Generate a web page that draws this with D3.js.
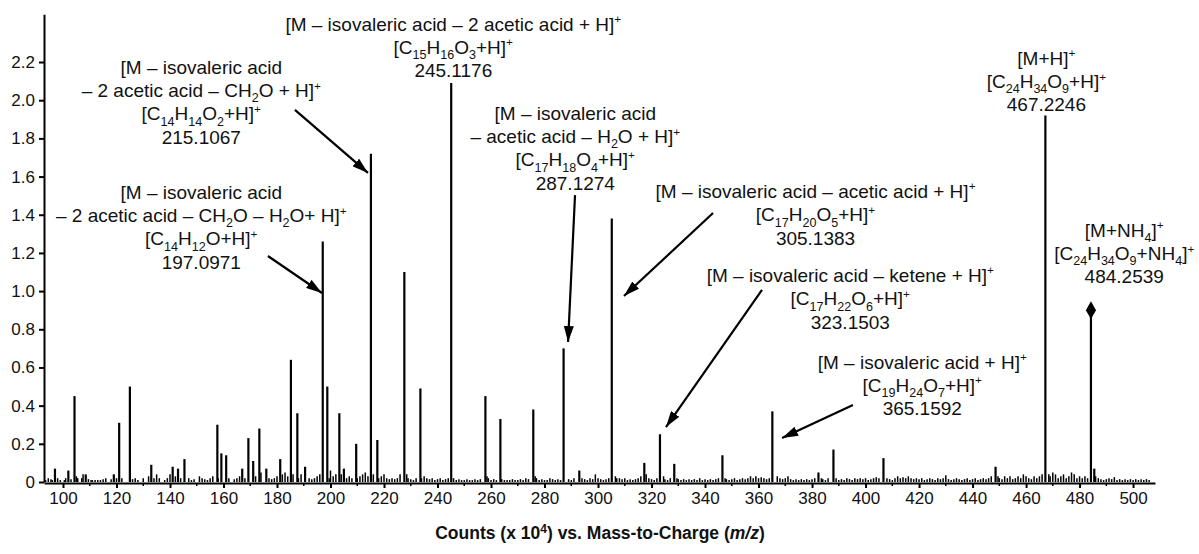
<!DOCTYPE html>
<html><head><meta charset="utf-8">
<script src="https://cdn.jsdelivr.net/npm/d3@7"></script>
<style>
body{margin:0;background:#fff}
svg{display:block}
text{font-family:"Liberation Sans",Arial,Helvetica,sans-serif;fill:#111}
</style>
</head><body>
<svg id="c" width="1199" height="554"></svg>
<script>
// ---- data (m/z, counts x10^4) ----
const majorMz  = [97,102,104.3,108.5,119,121,125,133,141,143,145.4,157.7,159.2,161,167,169.3,171.1,173.4,176,181.2,185.2,187.6,190.5,197.0971,198.8,203.3,205,209.6,215.1067,217.5,227.6,233.6,245.1176,257.9,263.5,275.8,287.1274,293,305.1383,317.3,323.1503,328.5,346.5,365.1592,382.4,388,406.7,448.6,467.2246,485.5];
const majorInt = [0.07,0.06,0.45,0.04,0.04,0.31,0.50,0.09,0.08,0.07,0.12,0.30,0.15,0.14,0.07,0.23,0.11,0.28,0.07,0.12,0.64,0.36,0.08,1.26,0.50,0.36,0.07,0.20,1.72,0.22,1.10,0.49,2.09,0.45,0.33,0.38,0.70,0.06,1.38,0.10,0.25,0.095,0.14,0.37,0.05,0.17,0.125,0.08,1.92,0.07];
const noiseMz  = [93.5,94.5,95.5,96,98,99,100.5,101,103,105,105.5,107,107.5,109.5,110.5,111,112,113,114,115,116,118,120,122,126,127,128,130,132,134,135,136,138,139,140,142,144,147,148,149,151,152,153,154,155,156,158,162,164,165,166,168,172,174,177,178,179,180,182,183,184,186,188,189,192,193,194,195,196,199.5,200,201,202,204,206,207,208,210,211,212,213,214,216,218,219,220,221,222,223,224,225,226,228.5,229,230,231,232,234,235,236,237,238,239,240,241,242,243,244,246,247,248,249,250,251,252,253,254,255,256,258.5,259,260,261,262,264,265,266,267,268,269,270,271,272,273,274,276.5,277,278,279,280,281,282,283,284,285,286,289,290,291,294,295,296,297,298,299,300,301,302,303,304,306.5,307,308,309,310,311,312,313,314,315,316,318,319,320,321,322,324.5,325,326,327,329.5,330,331,332,333,334,335,336,337,338,339,340,341,342,343,344,345,347.5,348,349,350,351,352,353,354,355,356,357,358,359,360,361,362,363,364,367,368,369,370,371,372,373,374,375,376,377,378,379,380,381,383.5,384,385,386,389,390,391,392,393,394,395,396,397,398,399,400,401,402,403,404,405,408,409,410,411,412,413,414,415,416,417,418,419,420,421,422,423,424,425,426,427,428,429,430,431,432,433,434,435,436,437,438,439,440,441,442,443,444,445,446,447,449.5,450,451,452,453,454,455,456,457,458,459,460,461,462,463,464,465,466,468.5,469,470,471,472,473,474,475,476,477,478,479,480,481,482,483,486,487,488,489,490,491,492,493,494,495,496,497,498,499,500,501,502,503,504,505,506];
const noiseInt = [0.01,0.02,0.015,0.01,0.02,0.01,0.01,0.02,0.015,0.03,0.02,0.02,0.04,0.015,0.01,0.01,0.01,0.01,0.01,0.015,0.02,0.015,0.02,0.02,0.015,0.02,0.01,0.02,0.03,0.02,0.04,0.02,0.01,0.02,0.04,0.03,0.02,0.02,0.01,0.015,0.03,0.02,0.015,0.01,0.02,0.03,0.02,0.02,0.015,0.02,0.03,0.02,0.03,0.05,0.02,0.015,0.02,0.03,0.04,0.05,0.03,0.04,0.02,0.04,0.02,0.015,0.02,0.03,0.04,0.02,0.06,0.03,0.04,0.04,0.02,0.03,0.02,0.02,0.03,0.04,0.05,0.03,0.04,0.02,0.03,0.04,0.02,0.015,0.02,0.015,0.02,0.04,0.04,0.02,0.015,0.01,0.02,0.02,0.03,0.02,0.015,0.02,0.01,0.015,0.02,0.01,0.015,0.02,0.02,0.01,0.015,0.01,0.01,0.015,0.01,0.01,0.015,0.01,0.015,0.03,0.02,0.01,0.015,0.01,0.015,0.01,0.01,0.01,0.015,0.01,0.01,0.015,0.01,0.02,0.015,0.03,0.02,0.01,0.015,0.01,0.01,0.02,0.015,0.01,0.015,0.01,0.015,0.01,0.02,0.02,0.015,0.01,0.02,0.015,0.04,0.02,0.015,0.01,0.015,0.02,0.03,0.02,0.02,0.015,0.02,0.01,0.015,0.01,0.015,0.02,0.03,0.04,0.02,0.015,0.01,0.02,0.03,0.015,0.01,0.02,0.02,0.015,0.01,0.015,0.01,0.015,0.01,0.015,0.01,0.02,0.01,0.015,0.01,0.015,0.01,0.015,0.02,0.02,0.015,0.01,0.015,0.02,0.01,0.015,0.02,0.015,0.02,0.03,0.02,0.03,0.02,0.025,0.02,0.015,0.02,0.03,0.02,0.015,0.02,0.03,0.015,0.01,0.015,0.01,0.015,0.01,0.015,0.01,0.015,0.02,0.02,0.015,0.01,0.02,0.02,0.01,0.015,0.01,0.02,0.015,0.01,0.02,0.015,0.02,0.015,0.02,0.01,0.015,0.02,0.025,0.02,0.02,0.015,0.01,0.02,0.03,0.02,0.025,0.02,0.03,0.02,0.015,0.02,0.015,0.02,0.01,0.015,0.02,0.015,0.01,0.02,0.015,0.02,0.035,0.015,0.01,0.015,0.02,0.015,0.01,0.015,0.02,0.01,0.015,0.02,0.01,0.015,0.02,0.015,0.02,0.03,0.03,0.02,0.015,0.03,0.02,0.03,0.015,0.02,0.03,0.02,0.04,0.03,0.02,0.015,0.03,0.02,0.03,0.04,0.04,0.03,0.05,0.04,0.02,0.03,0.04,0.02,0.03,0.05,0.04,0.02,0.03,0.02,0.03,0.02,0.03,0.02,0.015,0.01,0.015,0.02,0.015,0.025,0.01,0.015,0.01,0.015,0.01,0.015,0.01,0.015,0.01,0.015,0.01,0.015,0.01];
const adductMz = [484.2539];
const adductInt = [0.90];

const yTicks = [0,0.2,0.4,0.6,0.8,1.0,1.2,1.4,1.6,1.8,2.0,2.2];
const xTicks = [100,120,140,160,180,200,220,240,260,280,300,320,340,360,380,400,420,440,460,480,500];
const xMinorTicks = [110,130,150,170,190,210,230,250,270,290,310,330,350,370,390,410,430,450,470,490];
const axisTitle = ["Counts (x 10", "4", ") vs. Mass-to-Charge (", "m/z", ")"];

// annotation labels: anchor (m/z, intensity) of first line centre
const labelMz  = [245.9,151.7,151.7,291.5,381.3,394.3,421.2,467.6,496.7];
const labelInt = [2.40,2.174,1.519,1.933,1.524,1.084,0.629,2.221,1.320];
const labelLines = [
  ["[M – isovaleric acid – 2 acetic acid + H]^{+}", "[C_{15}H_{16}O_{3}+H]^{+}", "245.1176"],
  ["[M – isovaleric acid", "– 2 acetic acid – CH_{2}O + H]^{+}", "[C_{14}H_{14}O_{2}+H]^{+}", "215.1067"],
  ["[M – isovaleric acid", "– 2 acetic acid – CH_{2}O – H_{2}O+ H]^{+}", "[C_{14}H_{12}O+H]^{+}", "197.0971"],
  ["[M – isovaleric acid", "– acetic acid – H_{2}O + H]^{+}", "[C_{17}H_{18}O_{4}+H]^{+}", "287.1274"],
  ["[M – isovaleric acid – acetic acid + H]^{+}", "[C_{17}H_{20}O_{5}+H]^{+}", "305.1383"],
  ["[M – isovaleric acid – ketene + H]^{+}", "[C_{17}H_{22}O_{6}+H]^{+}", "323.1503"],
  ["[M – isovaleric acid + H]^{+}", "[C_{19}H_{24}O_{7}+H]^{+}", "365.1592"],
  ["[M+H]^{+}", "[C_{24}H_{34}O_{9}+H]^{+}", "467.2246"],
  ["[M+NH_{4}]^{+}", "[C_{24}H_{34}O_{9}+NH_{4}]^{+}", "484.2539"]
];
// arrows: from (m/z, int) to (m/z, int)
const arrowFromMz  = [186.7,176.6,291.4,343.0,361.3,395.3];
const arrowFromInt = [1.949,1.184,1.503,1.409,1.006,0.403];
const arrowToMz    = [214.0,196.8,288.8,309.7,325.4,368.8];
const arrowToInt   = [1.619,0.990,0.733,0.974,0.288,0.230];

// ---- drawing ----
const svg = d3.select("#c");
const x = d3.scaleLinear().domain([92.9, 508.2]).range([44, 1155]);
const y = d3.scaleLinear().domain([0, 2.45]).range([482, 14.3]);

svg.append("defs").append("marker").attr("id","ah").attr("viewBox","0 0 16 10")
  .attr("refX",16).attr("refY",5).attr("markerWidth",16).attr("markerHeight",10)
  .attr("markerUnits","userSpaceOnUse").attr("orient","auto")
  .append("path").attr("d","M0,0 L16,5 L0,10 Z").attr("fill","#000");

const noise = d3.zip(noiseMz, noiseInt);
svg.append("g").selectAll("line").data(noise).join("line")
  .attr("x1",d=>x(d[0])).attr("x2",d=>x(d[0]))
  .attr("y1",y(0)).attr("y2",d=>y(d[1]))
  .attr("stroke","#000").attr("stroke-width",1.5);

const peaks = d3.zip(majorMz, majorInt);
svg.append("g").selectAll("line").data(peaks).join("line")
  .attr("x1",d=>x(d[0])).attr("x2",d=>x(d[0]))
  .attr("y1",y(0)).attr("y2",d=>y(d[1]))
  .attr("stroke","#000").attr("stroke-width",2.2);

const adduct = d3.zip(adductMz, adductInt);
svg.append("g").selectAll("line").data(adduct).join("line")
  .attr("x1",d=>x(d[0])).attr("x2",d=>x(d[0]))
  .attr("y1",y(0)).attr("y2",d=>y(d[1]))
  .attr("stroke","#000").attr("stroke-width",2.2);
svg.append("g").selectAll("path").data(adduct).join("path")
  .attr("transform",d=>`translate(${x(d[0])},${y(d[1])})`)
  .attr("d", d3.symbol(d3.symbolDiamond, 90))
  .attr("fill","#000");

// axes
const yAxis = d3.axisLeft(y).tickValues(yTicks).tickSize(5).tickSizeOuter(0)
  .tickFormat(d => d === 0 ? "0" : d3.format(".1f")(d));
const gy = svg.append("g").attr("transform","translate(44,0)").call(yAxis);
gy.selectAll("text").attr("font-size",17).attr("x",-9).style("font-family",'"Liberation Sans",Arial,sans-serif');
gy.selectAll("path,line").attr("stroke","#000").attr("stroke-width",2);

const xAxis = d3.axisBottom(x).tickValues(xTicks).tickSize(5).tickSizeOuter(0);
const gx = svg.append("g").attr("transform",`translate(0,${y(0)+1})`).call(xAxis);
gx.selectAll("text").attr("font-size",17).attr("y",9).style("font-family",'"Liberation Sans",Arial,sans-serif');
gx.selectAll("path,line").attr("stroke","#000").attr("stroke-width",2);
svg.append("g").selectAll("line").data(xMinorTicks).join("line")
  .attr("x1",d=>x(d)).attr("x2",d=>x(d)).attr("y1",y(0)+1).attr("y2",y(0)+4)
  .attr("stroke","#000").attr("stroke-width",1.5);

// axis title
const t = svg.append("text").attr("x",600).attr("y",539).attr("text-anchor","middle")
  .attr("font-size",17.5).attr("font-weight","bold");
t.append("tspan").text(axisTitle[0]);
t.append("tspan").attr("dy",-6).attr("font-size",12).text(axisTitle[1]);
t.append("tspan").attr("dy",6).text(axisTitle[2]);
t.append("tspan").attr("font-style","italic").text(axisTitle[3]);
t.append("tspan").text(axisTitle[4]);

// rich text
function richLine(sel, str, fs) {
  const parts = str.split(/(_\{[^}]*\}|\^\{[^}]*\})/).filter(s => s);
  let off = 0;
  parts.forEach(p => {
    let target = 0, txt = p, size = fs;
    if (p.startsWith("_{")) { target = 0.28*fs; txt = p.slice(2,-1); size = fs*0.66; }
    else if (p.startsWith("^{")) { target = -0.40*fs; txt = p.slice(2,-1); size = fs*0.62; }
    sel.append("tspan").attr("dy", target - off).attr("font-size", size).text(txt);
    off = target;
  });
}
const FS = 19, LH = 23.3;
labelLines.forEach((lines, i) => {
  const cx = x(labelMz[i]), cy = y(labelInt[i]);
  lines.forEach((ln, j) => {
    const te = svg.append("text").attr("x",cx).attr("y",cy + j*LH + FS*0.36)
      .attr("text-anchor","middle").attr("font-size",FS);
    richLine(te, ln, FS);
  });
});

// arrows
d3.range(arrowFromMz.length).forEach(i => {
  svg.append("line")
    .attr("x1",x(arrowFromMz[i])).attr("y1",y(arrowFromInt[i]))
    .attr("x2",x(arrowToMz[i])).attr("y2",y(arrowToInt[i]))
    .attr("stroke","#000").attr("stroke-width",2.2).attr("marker-end","url(#ah)");
});
</script>
</body></html>
